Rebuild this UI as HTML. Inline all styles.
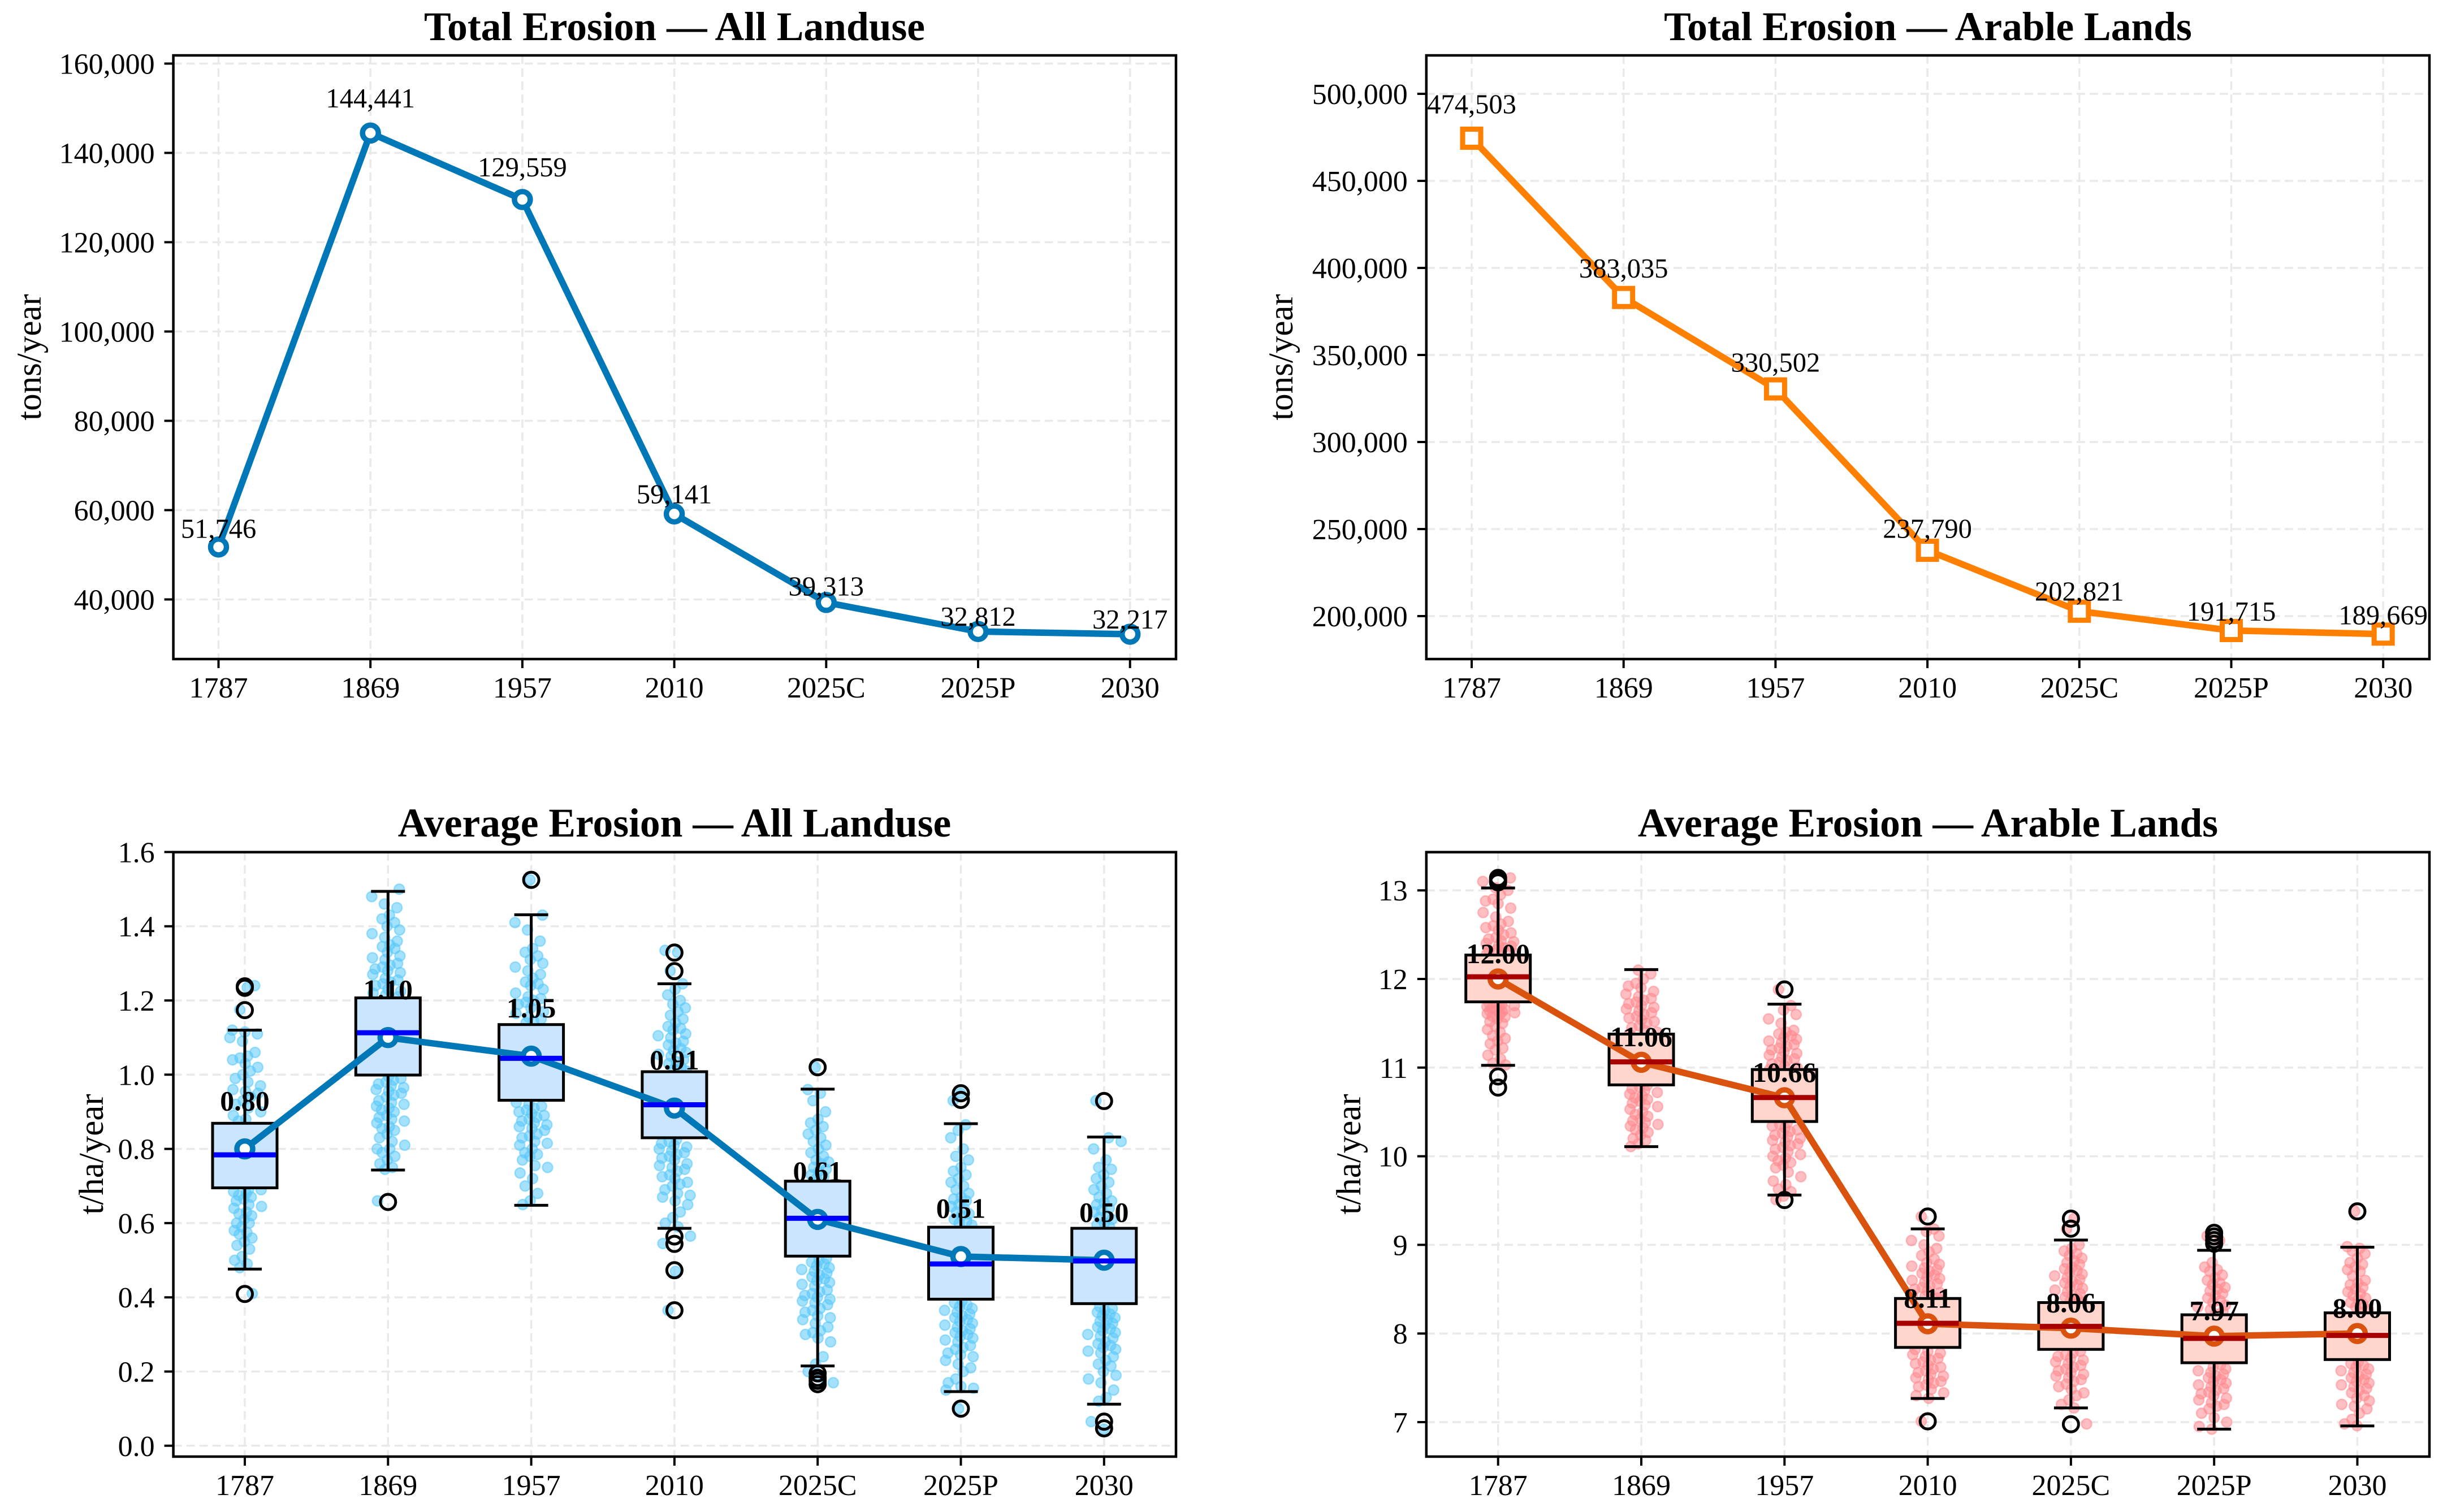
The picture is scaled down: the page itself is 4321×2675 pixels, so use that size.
<!DOCTYPE html>
<html lang="en">
<head>
<meta charset="utf-8">
<title>Erosion charts</title>
<style>
html,body{margin:0;padding:0;background:#fff;}
svg{display:block;font-family:"Liberation Serif","Times New Roman",serif;}
.title{font-size:71.5px;font-weight:bold;text-anchor:middle;fill:#000;}
.ylab{font-size:61px;text-anchor:middle;fill:#000;}
</style>
</head>
<body>
<svg id="figure" xmlns="http://www.w3.org/2000/svg" width="4321" height="2675" viewBox="0 0 4321 2675">
<rect x="0" y="0" width="4321" height="2675" fill="#fff"/>
<g id="panelA"></g>
<g id="panelB"></g>
<g id="panelC"></g>
<g id="panelD"></g>
<text class="title" x="1193" y="71">Total Erosion — All Landuse</text>
<text class="title" x="3410" y="71">Total Erosion — Arable Lands</text>
<text class="title" x="1193" y="1480">Average Erosion — All Landuse</text>
<text class="title" x="3410" y="1480">Average Erosion — Arable Lands</text>
<text class="ylab" transform="translate(72,632) rotate(-90)">tons/year</text>
<text class="ylab" transform="translate(2286,632) rotate(-90)">tons/year</text>
<text class="ylab" transform="translate(182,2042) rotate(-90)">t/ha/year</text>
<text class="ylab" transform="translate(2406,2042) rotate(-90)">t/ha/year</text>
</svg>
<script>
const categories = ["1787","1869","1957","2010","2025C","2025P","2030"];

const totalAll = [51746,144441,129559,59141,39313,32812,32217];
const totalArable = [474503,383035,330502,237790,202821,191715,189669];
const ticksTotalAll = [40000,60000,80000,100000,120000,140000,160000];
const ticksTotalArable = [200000,250000,300000,350000,400000,450000,500000];

const ticksAvgAll = [0,0.2,0.4,0.6,0.8,1.0,1.2,1.4,1.6];
const ticksAvgArable = [7,8,9,10,11,12,13];

const meanAll = [0.80,1.10,1.05,0.91,0.61,0.51,0.50];
const q1All = [0.695,0.999,0.931,0.830,0.511,0.395,0.383];
const medianAll = [0.784,1.113,1.044,0.919,0.613,0.490,0.498];
const q3All = [0.869,1.207,1.135,1.008,0.713,0.589,0.586];
const whiskLowAll = [0.476,0.743,0.648,0.586,0.215,0.146,0.112];
const whiskHighAll = [1.12,1.494,1.431,1.245,0.961,0.868,0.832];
const outliersAll = [[0.409,1.174,1.234,1.238],[0.657],[1.525],[0.365,0.473,0.544,0.564,1.279,1.329],[0.166,0.175,0.183,0.195,1.020],[0.100,0.932,0.950],[0.047,0.065,0.929]];

const meanArable = [12.00,11.06,10.66,8.11,8.06,7.97,8.00];
const q1Arable = [11.742,10.805,10.392,7.843,7.821,7.670,7.706];
const medianArable = [12.025,11.065,10.662,8.115,8.08,7.945,7.978];
const q3Arable = [12.27,11.378,10.978,8.395,8.349,8.211,8.233];
const whiskLowArable = [11.026,10.108,9.562,7.267,7.16,6.921,6.957];
const whiskHighArable = [13.027,12.106,11.716,9.18,9.054,8.939,8.974];
const outliersArable = [[10.775,10.90,13.09,13.10,13.12,13.14],[],[9.506,11.882],[7.009,9.32],[6.976,9.183,9.296],[9.013,9.054,9.095,9.136],[9.378]];

const scatterAll = [
[0.41,0.48,0.49,0.5,0.51,0.53,0.54,0.55,0.56,0.57,0.575,0.58,0.59,0.6,0.6,0.61,0.62,0.625,0.63,0.64,0.645,0.65,0.66,0.665,0.67,0.675,0.68,0.685,0.69,0.69,0.75,0.8,0.85,0.875,0.88,0.89,0.9,0.91,0.92,0.93,0.94,0.95,0.955,0.96,0.97,0.98,0.99,1.0,1.01,1.02,1.03,1.04,1.045,1.05,1.06,1.09,1.1,1.11,1.115,1.12,1.175,1.235,1.24],
[0.66,0.745,0.75,0.76,0.77,0.78,0.79,0.8,0.8,0.81,0.82,0.83,0.84,0.85,0.855,0.86,0.87,0.875,0.88,0.885,0.89,0.9,0.905,0.91,0.915,0.92,0.925,0.93,0.94,0.945,0.95,0.955,0.96,0.965,0.97,0.975,0.98,0.985,0.99,0.995,1.05,1.1,1.15,1.21,1.215,1.22,1.225,1.23,1.24,1.245,1.25,1.255,1.26,1.27,1.275,1.28,1.285,1.29,1.295,1.3,1.31,1.315,1.32,1.33,1.34,1.345,1.35,1.36,1.37,1.38,1.39,1.4,1.41,1.42,1.43,1.45,1.46,1.48,1.5],
[0.65,0.66,0.68,0.7,0.72,0.735,0.75,0.755,0.77,0.78,0.785,0.79,0.8,0.81,0.815,0.82,0.83,0.835,0.84,0.85,0.855,0.86,0.865,0.87,0.875,0.88,0.885,0.89,0.895,0.9,0.905,0.91,0.915,0.92,0.925,0.98,1.03,1.08,1.14,1.145,1.15,1.155,1.165,1.17,1.18,1.19,1.195,1.2,1.205,1.21,1.22,1.23,1.24,1.245,1.25,1.26,1.27,1.28,1.29,1.3,1.31,1.32,1.33,1.34,1.36,1.39,1.41,1.43,1.525],
[0.365,0.47,0.545,0.565,0.59,0.6,0.615,0.63,0.65,0.66,0.67,0.675,0.68,0.69,0.7,0.705,0.71,0.72,0.725,0.73,0.74,0.745,0.75,0.755,0.76,0.77,0.775,0.78,0.785,0.79,0.795,0.8,0.805,0.81,0.815,0.82,0.825,0.87,0.92,0.97,1.01,1.015,1.02,1.03,1.035,1.04,1.05,1.055,1.06,1.065,1.07,1.08,1.085,1.09,1.1,1.105,1.11,1.12,1.125,1.13,1.14,1.15,1.16,1.17,1.18,1.19,1.2,1.215,1.23,1.245,1.28,1.33,1.335],
[0.17,0.185,0.2,0.22,0.24,0.28,0.29,0.3,0.305,0.31,0.32,0.33,0.34,0.345,0.35,0.36,0.365,0.37,0.38,0.385,0.39,0.395,0.4,0.405,0.41,0.415,0.42,0.43,0.435,0.44,0.445,0.45,0.455,0.46,0.465,0.47,0.475,0.48,0.485,0.49,0.495,0.5,0.505,0.56,0.61,0.66,0.72,0.725,0.73,0.74,0.745,0.75,0.76,0.765,0.77,0.78,0.79,0.8,0.81,0.82,0.83,0.84,0.85,0.86,0.87,0.88,0.9,0.93,0.95,0.96,1.02],
[0.1,0.15,0.155,0.16,0.17,0.18,0.2,0.21,0.22,0.23,0.24,0.245,0.25,0.26,0.265,0.27,0.28,0.285,0.29,0.295,0.3,0.305,0.31,0.315,0.32,0.325,0.33,0.335,0.34,0.345,0.35,0.355,0.36,0.365,0.37,0.375,0.38,0.385,0.39,0.45,0.5,0.55,0.595,0.6,0.605,0.61,0.62,0.625,0.63,0.64,0.645,0.65,0.66,0.665,0.67,0.68,0.69,0.7,0.71,0.72,0.73,0.74,0.75,0.77,0.78,0.8,0.83,0.85,0.865,0.93,0.95],
[0.045,0.065,0.12,0.13,0.15,0.17,0.18,0.19,0.2,0.215,0.22,0.23,0.24,0.25,0.255,0.26,0.265,0.27,0.275,0.28,0.29,0.295,0.3,0.305,0.31,0.315,0.32,0.325,0.33,0.335,0.34,0.345,0.35,0.355,0.36,0.365,0.37,0.375,0.44,0.5,0.55,0.59,0.595,0.6,0.61,0.615,0.62,0.63,0.635,0.64,0.65,0.655,0.66,0.67,0.68,0.69,0.7,0.71,0.72,0.73,0.745,0.75,0.77,0.8,0.82,0.83,0.93]
];

const scatterArable = [
[11.03,11.05,11.1,11.14,11.2,11.22,11.27,11.3,11.33,11.36,11.4,11.43,11.47,11.5,11.52,11.55,11.57,11.58,11.6,11.61,11.62,11.63,11.64,11.65,11.66,11.67,11.68,11.69,11.7,11.71,11.72,11.73,11.9,12.0,12.1,12.28,12.29,12.3,12.32,12.33,12.35,12.37,12.38,12.4,12.42,12.43,12.45,12.47,12.5,12.52,12.55,12.58,12.6,12.62,12.65,12.7,12.75,12.8,12.85,12.88,12.9,12.95,13.0,13.03,13.1,13.14],
[10.11,10.14,10.18,10.2,10.24,10.27,10.3,10.32,10.34,10.36,10.38,10.4,10.42,10.45,10.47,10.5,10.53,10.56,10.58,10.6,10.62,10.64,10.66,10.68,10.7,10.72,10.74,10.76,10.78,10.8,11.0,11.2,11.38,11.4,11.42,11.45,11.47,11.5,11.52,11.54,11.56,11.58,11.6,11.62,11.64,11.66,11.68,11.7,11.72,11.74,11.76,11.78,11.8,11.83,11.86,11.9,11.92,11.95,12.0,12.06,12.1],
[9.51,9.55,9.6,9.63,9.68,9.72,9.77,9.82,9.87,9.9,9.93,9.95,9.98,10.0,10.02,10.05,10.08,10.1,10.12,10.14,10.16,10.18,10.2,10.22,10.24,10.26,10.28,10.3,10.32,10.34,10.36,10.38,10.6,10.8,10.98,11.0,11.02,11.04,11.06,11.08,11.1,11.12,11.14,11.16,11.18,11.2,11.22,11.24,11.26,11.28,11.3,11.32,11.34,11.36,11.38,11.4,11.42,11.5,11.55,11.6,11.65,11.7,11.88],
[7.01,7.27,7.3,7.33,7.37,7.4,7.42,7.44,7.46,7.48,7.5,7.52,7.54,7.56,7.58,7.6,7.62,7.64,7.66,7.68,7.7,7.72,7.74,7.76,7.78,7.8,7.82,8.0,8.2,8.4,8.42,8.44,8.46,8.48,8.5,8.52,8.54,8.56,8.58,8.6,8.62,8.64,8.66,8.68,8.7,8.72,8.74,8.76,8.78,8.8,8.84,8.88,8.92,8.96,9.0,9.05,9.1,9.15,9.18,9.32],
[6.98,7.16,7.2,7.25,7.3,7.33,7.37,7.4,7.43,7.46,7.48,7.5,7.52,7.54,7.56,7.58,7.6,7.62,7.64,7.66,7.68,7.7,7.72,7.74,7.76,7.78,7.8,8.0,8.2,8.35,8.37,8.39,8.41,8.43,8.45,8.47,8.49,8.51,8.53,8.55,8.57,8.59,8.61,8.63,8.65,8.67,8.69,8.71,8.73,8.75,8.78,8.8,8.82,8.85,8.88,8.9,8.93,8.96,9.0,9.18,9.3],
[6.92,6.95,7.0,7.05,7.1,7.15,7.18,7.2,7.22,7.25,7.27,7.3,7.32,7.34,7.36,7.38,7.4,7.42,7.44,7.46,7.48,7.5,7.52,7.54,7.56,7.58,7.6,7.62,7.65,7.9,8.22,8.25,8.27,8.3,8.32,8.35,8.37,8.4,8.43,8.45,8.48,8.5,8.52,8.55,8.57,8.6,8.63,8.66,8.7,8.72,8.75,8.8,9.05,9.1],
[6.96,6.98,7.03,7.1,7.15,7.18,7.2,7.24,7.27,7.3,7.33,7.36,7.38,7.4,7.42,7.44,7.46,7.48,7.5,7.52,7.54,7.56,7.58,7.6,7.62,7.64,7.66,7.68,7.9,8.1,8.24,8.27,8.3,8.33,8.35,8.38,8.4,8.43,8.45,8.47,8.5,8.52,8.55,8.57,8.6,8.65,8.7,8.72,8.75,8.78,8.8,8.85,8.9,8.93,8.96,8.98,9.38]
];

const SVGNS = "http://www.w3.org/2000/svg";
function make(tag, attrs, parent, text){
  const node = document.createElementNS(SVGNS, tag);
  for (const k in attrs) node.setAttribute(k, attrs[k]);
  if (text !== undefined) node.textContent = text;
  parent.appendChild(node);
  return node;
}
function linearY(refValue, refPx, pxPerUnit){
  return v => refPx + (refValue - v) * pxPerUnit;
}
function comma(v){
  return String(v).replace(/\B(?=(\d{3})+$)/g, ",");
}
function spread(i){
  const u = (i * 0.6180339) % 1;
  const w = (i * 0.7548777) % 1;
  return (u + w - 1) * 0.14;
}

function drawFrameBack(p, frame, xOf, yOf, ticks, tickText){
  ticks.forEach(t => {
    const y = yOf(t);
    let el = make("line",{x1:frame.left,x2:frame.right,y1:y,y2:y,stroke:"#e9e9e9","stroke-width":3.5,"stroke-dasharray":"15 8"},p);
    
    
  });
  categories.forEach((c,i) => {
    const x = xOf(i);
    let el = make("line",{x1:x,x2:x,y1:frame.top,y2:frame.bottom,stroke:"#e9e9e9","stroke-width":3.5,"stroke-dasharray":"15 8"},p);
    
    
  });
}
function drawFrameFront(p, frame, xOf, yOf, ticks, tickText){
  ticks.forEach(t => {
    const y = yOf(t);
    let el = make("line",{x1:frame.left-16,x2:frame.left,y1:y,y2:y,stroke:"#000","stroke-width":4},p);
    
    
    let lab = make("text",{x:frame.left-33,y:y+18,"font-size":52,"text-anchor":"end",fill:"#000"},p,tickText(t));
    
    
  });
  categories.forEach((c,i) => {
    const x = xOf(i);
    let el = make("line",{x1:x,x2:x,y1:frame.bottom,y2:frame.bottom+16,stroke:"#000","stroke-width":4},p);
    
    
    let lab = make("text",{x:x,y:frame.bottom+68,"font-size":52,"text-anchor":"middle",fill:"#000"},p,c);
    
    
  });
  let sp = make("rect",{x:frame.left,y:frame.top,width:frame.right-frame.left,height:frame.bottom-frame.top,fill:"none",stroke:"#000","stroke-width":4.5},p);
  
  
}
function drawLine(p, xOf, yOf, values, color){
  const pts = values.map((v,i) => xOf(i).toFixed(1)+","+yOf(v).toFixed(1)).join(" ");
  let el = make("polyline",{points:pts,fill:"none",stroke:color,"stroke-width":11.5,"stroke-linejoin":"round"},p);
  
  
}
function drawCircles(p, xOf, yOf, values, color){
  values.forEach((v,i) => {
    let el = make("circle",{cx:xOf(i),cy:yOf(v),r:14,fill:"#fff",stroke:color,"stroke-width":9.5},p);
    
    
  });
}
function drawSquares(p, xOf, yOf, values, color){
  values.forEach((v,i) => {
    let el = make("rect",{x:xOf(i)-16,y:yOf(v)-16,width:32,height:32,fill:"#fff",stroke:color,"stroke-width":9},p);
    
    
  });
}
function drawTotalLabels(p, xOf, yOf, values, factor){
  values.forEach((v,i) => {
    let el = make("text",{x:xOf(i),y:yOf(v*factor),"font-size":48.5,"text-anchor":"middle",fill:"#000"},p,comma(v));
    
    
  });
}
function drawBoxPanel(p, xOf, yOf, stepPx, s, style){
  s.scatter.forEach((vals,g) => {
    vals.forEach((v,i) => {
      let el = make("circle",{cx:(xOf(g)+spread(i+g*11+1)*stepPx).toFixed(1),cy:yOf(v).toFixed(1),r:9,fill:style.dot,"fill-opacity":0.55,stroke:style.dot,"stroke-opacity":0.55,"stroke-width":2.5},p);
      
      
    });
  });
  const halfBox = 57, halfCap = 30;
  categories.forEach((c,g) => {
    const x = xOf(g);
    let el = make("line",{x1:x,x2:x,y1:yOf(s.whiskHigh[g]),y2:yOf(s.q3[g]),stroke:"#000","stroke-width":5},p);
    
    
    el = make("line",{x1:x,x2:x,y1:yOf(s.q1[g]),y2:yOf(s.whiskLow[g]),stroke:"#000","stroke-width":5},p);
    
    
    el = make("line",{x1:x-halfCap,x2:x+halfCap,y1:yOf(s.whiskHigh[g]),y2:yOf(s.whiskHigh[g]),stroke:"#000","stroke-width":5},p);
    
    
    el = make("line",{x1:x-halfCap,x2:x+halfCap,y1:yOf(s.whiskLow[g]),y2:yOf(s.whiskLow[g]),stroke:"#000","stroke-width":5},p);
    
    
    el = make("rect",{x:x-halfBox,y:yOf(s.q3[g]),width:halfBox*2,height:yOf(s.q1[g])-yOf(s.q3[g]),fill:style.box,stroke:"#000","stroke-width":5},p);
    
    
    s.outliers[g].forEach(v => {
      let o = make("circle",{cx:x,cy:yOf(v),r:13.5,fill:"none",stroke:"#000","stroke-width":5},p);
      
      
    });
  });
  drawLine(p, xOf, yOf, s.mean, style.line);
  drawCircles(p, xOf, yOf, s.mean, style.line);
  categories.forEach((c,g) => {
    const x = xOf(g);
    let el = make("line",{x1:x-55,x2:x+55,y1:yOf(s.median[g]),y2:yOf(s.median[g]),stroke:style.median,"stroke-width":9},p);
    
    
  });
  s.mean.forEach((v,g) => {
    let el = make("text",{x:xOf(g),y:yOf(v+style.labelOffset),"font-size":50,"font-weight":"bold","text-anchor":"middle",fill:"#000"},p,v.toFixed(2));
    
    
  });
}

/* Panel A */
(function(){
  const p = document.getElementById("panelA");
  const frame = {left:306.6,right:2080,top:98,bottom:1166};
  const xOf = i => 386.5 + i*268.7;
  const yOf = linearY(160000,112.5,0.0079);
  const fmt = t => comma(t);
  drawFrameBack(p,frame,xOf,yOf,ticksTotalAll,fmt);
  drawLine(p,xOf,yOf,totalAll,"#0077B6");
  drawCircles(p,xOf,yOf,totalAll,"#0077B6");
  drawTotalLabels(p,xOf,yOf,totalAll,1.04);
  drawFrameFront(p,frame,xOf,yOf,ticksTotalAll,fmt);
})();

/* Panel B */
(function(){
  const p = document.getElementById("panelB");
  const frame = {left:2522.8,right:4297,top:98,bottom:1166};
  const xOf = i => 2603 + i*268.7;
  const yOf = linearY(500000,166,0.00308);
  const fmt = t => comma(t);
  drawFrameBack(p,frame,xOf,yOf,ticksTotalArable,fmt);
  drawLine(p,xOf,yOf,totalArable,"#FF7F00");
  drawSquares(p,xOf,yOf,totalArable,"#FF7F00");
  drawTotalLabels(p,xOf,yOf,totalArable,1.03);
  drawFrameFront(p,frame,xOf,yOf,ticksTotalArable,fmt);
})();

/* Panel C */
(function(){
  const p = document.getElementById("panelC");
  const frame = {left:306.6,right:2080,top:1507.6,bottom:2577};
  const xOf = i => 433 + i*253.3;
  const yOf = linearY(0,2557.8,656.5);
  const fmt = t => t.toFixed(1);
  drawFrameBack(p,frame,xOf,yOf,ticksAvgAll,fmt);
  drawBoxPanel(p,xOf,yOf,253.3,{scatter:scatterAll,whiskHigh:whiskHighAll,whiskLow:whiskLowAll,q1:q1All,q3:q3All,median:medianAll,mean:meanAll,outliers:outliersAll},
    {dot:"#5AC8FA",box:"#CCE5FF",line:"#0077B6",median:"#0000FF",labelOffset:0.104});
  drawFrameFront(p,frame,xOf,yOf,ticksAvgAll,fmt);
})();

/* Panel D */
(function(){
  const p = document.getElementById("panelD");
  const frame = {left:2522.8,right:4297,top:1507.6,bottom:2577};
  const xOf = i => 2649.7 + i*253.3;
  const yOf = linearY(12,1732,156.8);
  const fmt = t => String(t);
  drawFrameBack(p,frame,xOf,yOf,ticksAvgArable,fmt);
  drawBoxPanel(p,xOf,yOf,253.3,{scatter:scatterArable,whiskHigh:whiskHighArable,whiskLow:whiskLowArable,q1:q1Arable,q3:q3Arable,median:medianArable,mean:meanArable,outliers:outliersArable},
    {dot:"#FF8A90",box:"#FFD5CC",line:"#D9530E",median:"#A80000",labelOffset:0.18});
  drawFrameFront(p,frame,xOf,yOf,ticksAvgArable,fmt);
})();
</script>
</body>
</html>
